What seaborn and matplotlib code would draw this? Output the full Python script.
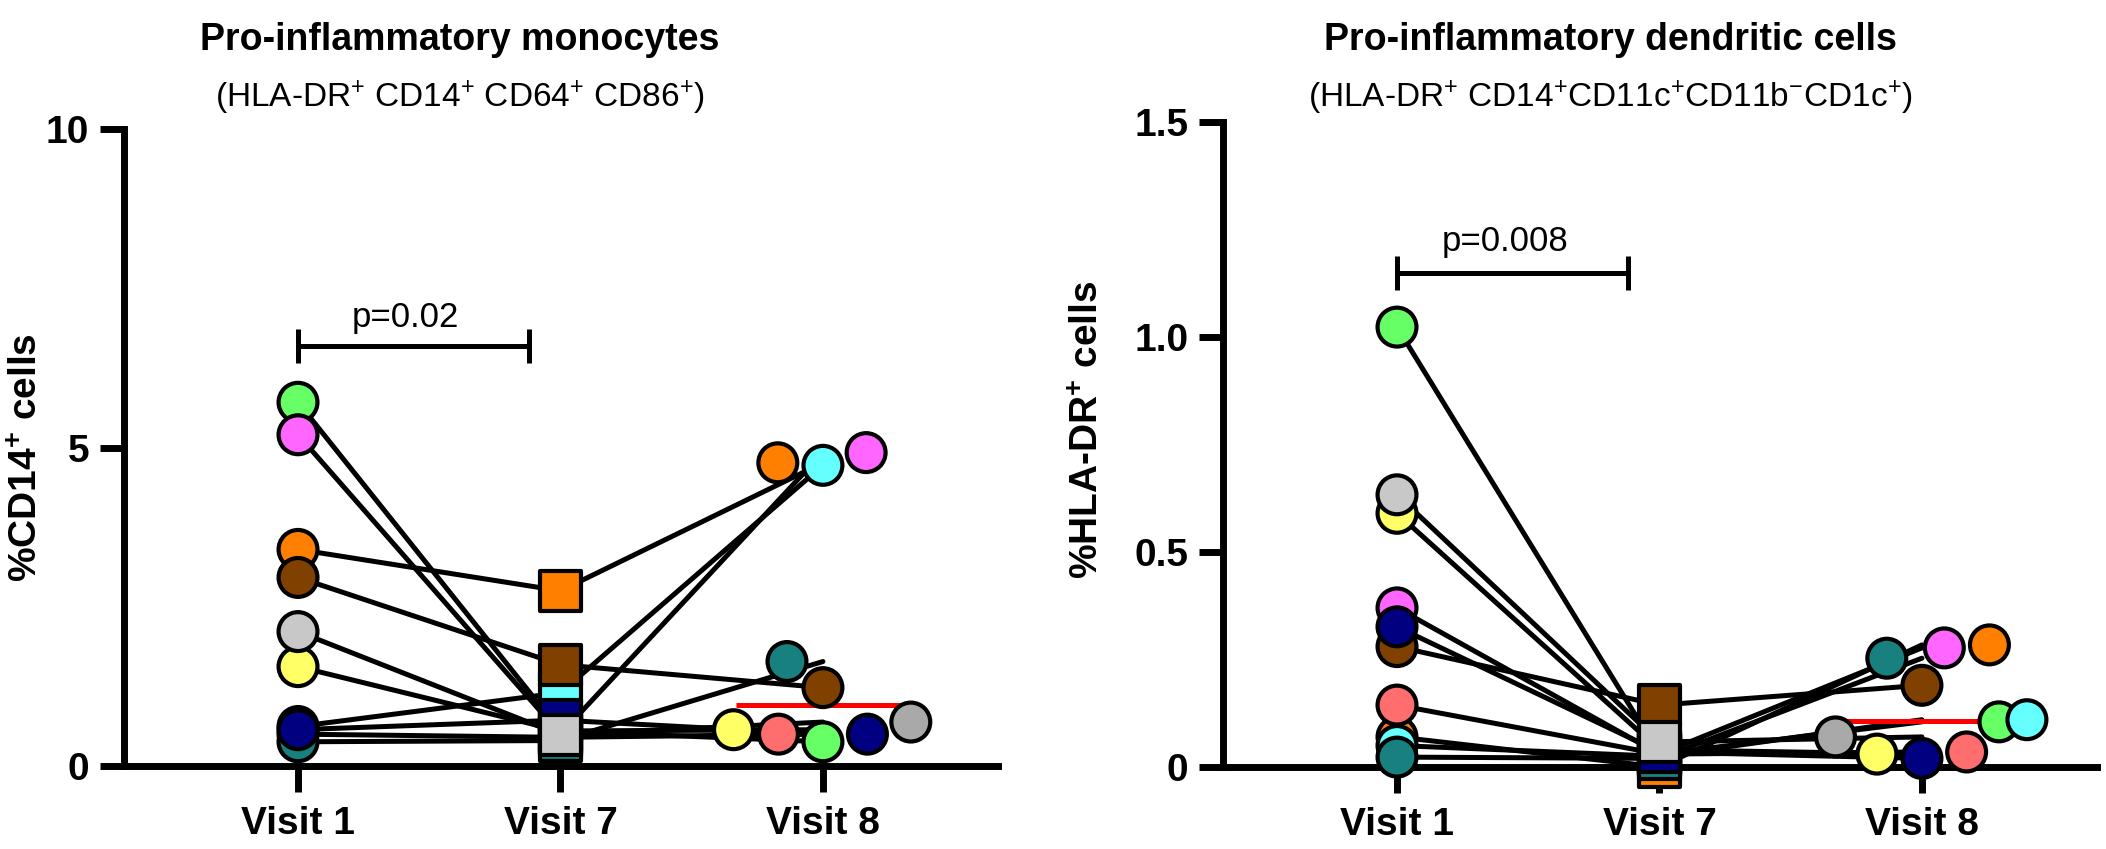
import numpy as np
import pandas as pd
import matplotlib
matplotlib.use("Agg")
import matplotlib.pyplot as plt
import seaborn as sns

# subjects, drawn in this order (later ones sit on top)
subjects = ["S01", "S02", "S03", "S04", "S05", "S06", "S07", "S08", "S09", "S10"]
colours = ["#66FF66", "#FF8000", "#FFFF66", "#FF6E6E", "#66FFFF",
           "#FF66FF", "#804000", "#198080", "#000080", "#C8C8C8"]
colours_v8 = ["#66FF66", "#FF8000", "#FFFF66", "#FF6E6E", "#66FFFF",
              "#FF66FF", "#804000", "#198080", "#000080", "#A9A9A9"]
visits = ["Visit 1", "Visit 7", "Visit 8"]

# % CD14+ cells (pro-inflammatory monocytes)
mono_v1 = [5.71, 3.40, 1.56, 0.50, 0.62, 5.20, 2.96, 0.38, 0.57, 2.11]
mono_v7 = [0.55, 2.75, 0.55, 0.45, 1.15, 0.50, 1.59, 0.40, 0.72, 0.49]
mono_v8 = [0.38, 4.76, 0.57, 0.50, 4.72, 4.92, 1.23, 1.64, 0.50, 0.69]

# % HLA-DR+ cells (pro-inflammatory dendritic cells)
dc_v1 = [1.023, 0.07, 0.59, 0.144, 0.05, 0.37, 0.28, 0.023, 0.326, 0.633]
dc_v7 = [0.03, 0.0, 0.04, 0.03, 0.025, 0.03, 0.144, 0.02, 0.035, 0.058]
dc_v8 = [0.105, 0.284, 0.03, 0.035, 0.11, 0.277, 0.19, 0.253, 0.02, 0.07]

mono_yticks = [0, 5, 10]
mono_yticklabels = ["0", "5", "10"]
dc_yticks = [0, 0.5, 1.0, 1.5]
dc_yticklabels = ["0", "0.5", "1.0", "1.5"]

mono_p = "p=0.02"
dc_p = "p=0.008"
mono_bracket_y = 6.59
dc_bracket_y = 1.149

sns.set_style("ticks")
plt.rcParams["font.family"] = ["Liberation Sans", "DejaVu Sans"]
plt.rcParams["mathtext.fontset"] = "custom"
plt.rcParams["mathtext.rm"] = "Liberation Sans"
plt.rcParams["mathtext.bf"] = "Liberation Sans:bold"
plt.rcParams["mathtext.it"] = "Liberation Sans:italic"
for key in ["text.color", "axes.labelcolor", "axes.edgecolor",
            "xtick.color", "ytick.color"]:
    plt.rcParams[key] = "black"

pal = dict(zip(subjects, colours))
pal8 = dict(zip(subjects, colours_v8))


def make_long(v1, v7, v8):
    df = pd.DataFrame({
        "subject": subjects * 3,
        "visit": np.repeat(visits, len(subjects)),
        "value": v1 + v7 + v8,
    })
    df["pos"] = df["visit"].map({v: i for i, v in enumerate(visits)})
    return df


def draw_panel(ax, df, ymax, yticks, yticklabels, ptext, bracket_y, ptext_off):
    # paired lines
    sns.lineplot(data=df, x="pos", y="value", units="subject", estimator=None,
                 sort=False, color="black", lw=3.6, legend=False, ax=ax, zorder=2)

    # median of visit 8
    v8 = df[df.visit == "Visit 8"]
    ax.hlines(v8["value"].median(), 2 - 0.33, 2 + 0.33, color="#FF0000",
              lw=3.6, zorder=3)

    sns.scatterplot(data=df[df.visit == "Visit 1"], x="pos", y="value",
                    hue="subject", palette=pal, marker="o", s=784,
                    edgecolor="black", linewidth=3, legend=False, ax=ax,
                    zorder=4, clip_on=False)
    sns.scatterplot(data=df[df.visit == "Visit 7"], x="pos", y="value",
                    hue="subject", palette=pal, marker="s", s=841,
                    edgecolor="black", linewidth=3, legend=False, ax=ax,
                    zorder=4, clip_on=False)
    sns.swarmplot(data=v8, x="pos", y="value", hue="subject", palette=pal8,
                  native_scale=True, orient="x", size=28, edgecolor="black",
                  linewidth=3, legend=False, ax=ax, zorder=4, clip_on=False)

    # significance bracket
    ax.plot([0, 0.88], [bracket_y, bracket_y], color="black", lw=3.6,
            marker="|", markersize=24, markeredgewidth=3.6,
            solid_capstyle="butt", clip_on=False, zorder=5)
    ax.annotate(ptext, xy=(0.41, bracket_y), xytext=(0, ptext_off),
                textcoords="offset points", ha="center", va="baseline",
                fontsize=25, annotation_clip=False)

    ax.set_xlim(-0.663, 2.667)
    ax.set_ylim(0, ymax)
    ax.set_xticks(range(len(visits)))
    ax.set_xticklabels(visits, fontsize=28, fontweight="bold")
    ax.set_yticks(yticks)
    ax.set_yticklabels(yticklabels, fontsize=28, fontweight="bold")
    ax.set_xlabel("")
    ax.set_ylabel("")
    for side in ["top", "right"]:
        ax.spines[side].set_visible(False)
    for side in ["left", "bottom"]:
        ax.spines[side].set_linewidth(5)
        ax.spines[side].set_capstyle("projecting")
    ax.tick_params(axis="y", length=17, width=5, pad=8, color="black")
    ax.tick_params(axis="x", length=19, width=5, pad=10, color="black")


W, H = 2106, 849
fig = plt.figure(figsize=(W / 100, H / 100), dpi=100)

ax1 = fig.add_axes([124 / W, (H - 766) / H, 874 / W, 637 / H])
ax2 = fig.add_axes([1223 / W, (H - 767) / H, 874 / W, 645 / H])

draw_panel(ax1, make_long(mono_v1, mono_v7, mono_v8), 10, mono_yticks,
           mono_yticklabels, mono_p, mono_bracket_y, 14)
draw_panel(ax2, make_long(dc_v1, dc_v7, dc_v8), 1.5, dc_yticks,
           dc_yticklabels, dc_p, dc_bracket_y, 16)

# titles
fig.text(460 / W, 1 - 50 / H, "Pro-inflammatory monocytes", ha="center",
         va="baseline", fontsize=27, fontweight="bold")
fig.text(460 / W, 1 - 107 / H, r"(HLA-DR$^{+}$ CD14$^{+}$ CD64$^{+}$ CD86$^{+}$)",
         ha="center", va="baseline", fontsize=24)
fig.text(1610 / W, 1 - 50 / H, "Pro-inflammatory dendritic cells", ha="center",
         va="baseline", fontsize=27, fontweight="bold")
fig.text(1610 / W, 1 - 107 / H,
         r"(HLA-DR$^{+}$ CD14$^{+}$CD11c$^{+}$CD11b$^{-}$CD1c$^{+}$)",
         ha="center", va="baseline", fontsize=24)

# y labels
fig.text(27 / W, 1 - 458 / H, r"%CD14$^{\mathbf{+}}$ cells", rotation=90,
         ha="center", va="center", fontsize=28, fontweight="bold")
fig.text(1088 / W, 1 - 430 / H, r"%HLA-DR$^{\mathbf{+}}$ cells", rotation=90,
         ha="center", va="center", fontsize=28, fontweight="bold")

fig.savefig("out.png", dpi=100)
